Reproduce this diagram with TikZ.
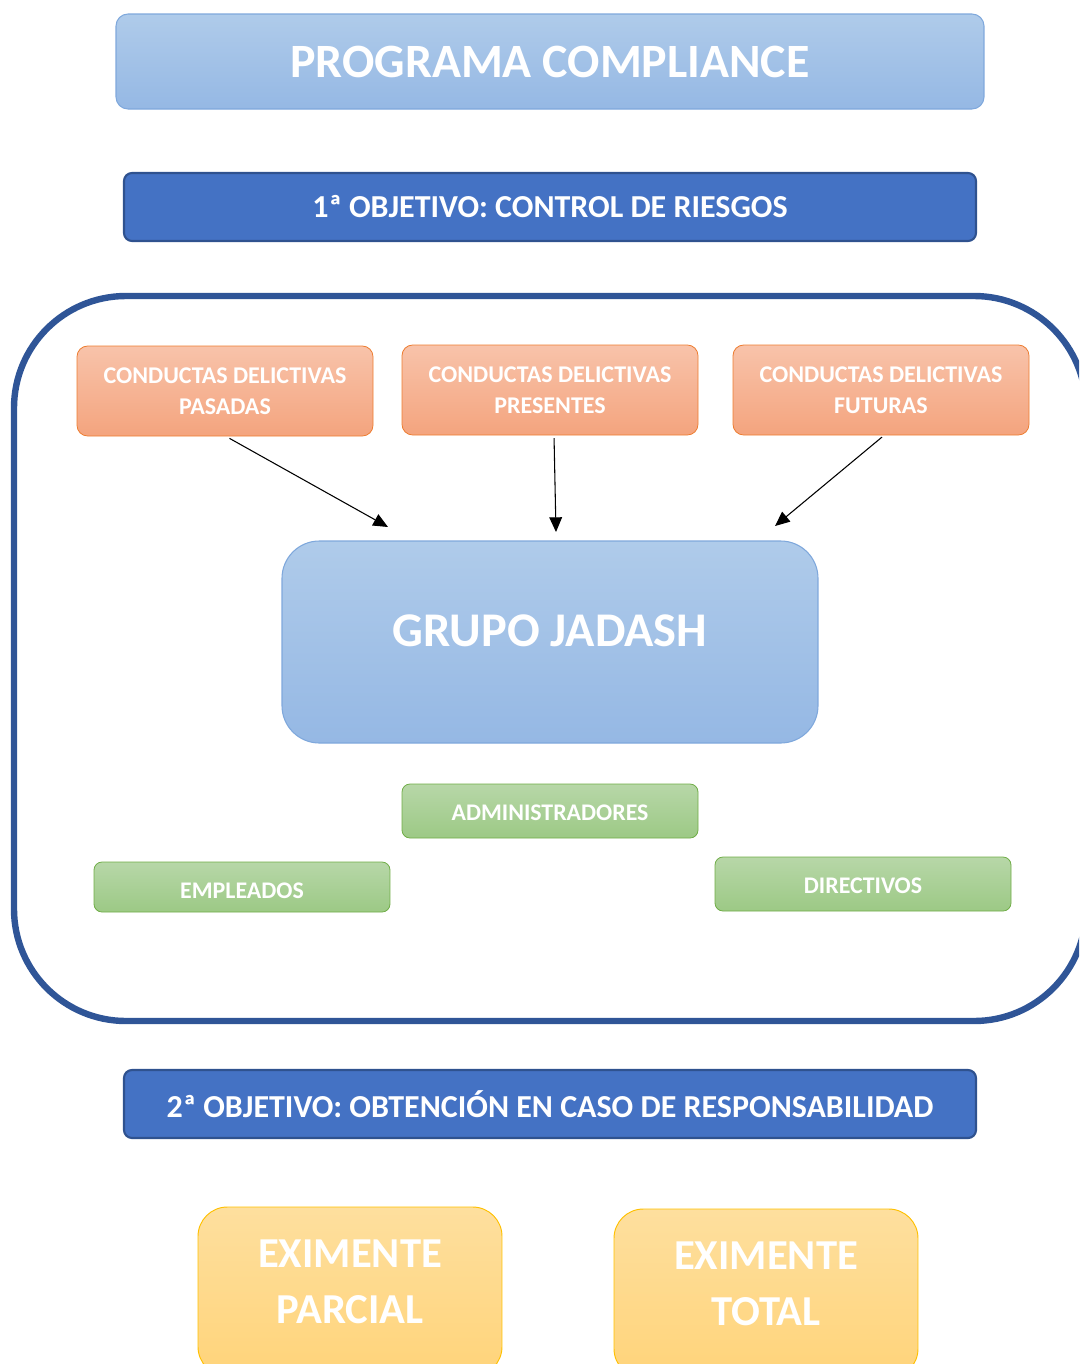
\documentclass[tikz,border=0pt]{standalone}
\usepackage{fontspec}
\setmainfont{Carlito}
\usetikzlibrary{arrows.meta}

\definecolor{lbTop}{HTML}{AFCBEA}
\definecolor{lbBot}{HTML}{95B8E4}
\definecolor{lbLine}{HTML}{7FA8DC}
\definecolor{objFill}{HTML}{4472C4}
\definecolor{objLine}{HTML}{2F528F}
\definecolor{orTop}{HTML}{F8C3AA}
\definecolor{orBot}{HTML}{F4A47E}
\definecolor{orLine}{HTML}{ED7D31}
\definecolor{grTop}{HTML}{B7D7A8}
\definecolor{grBot}{HTML}{9CC985}
\definecolor{grLine}{HTML}{70AD47}
\definecolor{ylTop}{HTML}{FEDF9E}
\definecolor{ylBot}{HTML}{FFD47A}
\definecolor{ylLine}{HTML}{FFC000}
\definecolor{frameLine}{HTML}{2F5597}

\begin{document}
\begin{tikzpicture}[x=0.75pt,y=-0.75pt,
  every node/.style={text=white, inner sep=0pt, align=center},
  lightblue/.style={rounded corners=9pt, top color=lbTop, bottom color=lbBot, draw=lbLine, line width=0.8pt},
  objbox/.style={rounded corners=6pt, fill=objFill, draw=objLine, line width=1.6pt,
    minimum width=639pt, minimum height=51pt, font=\fontsize{24}{28}\selectfont\bfseries},
  riskbox/.style={rounded corners=8pt, top color=orTop, bottom color=orBot, draw=orLine, line width=0.6pt,
    minimum width=222pt, minimum height=67.5pt, font=\fontsize{18}{23.25}\selectfont\bfseries},
  rolebox/.style={rounded corners=6pt, top color=grTop, bottom color=grBot, draw=grLine, line width=0.6pt,
    minimum width=222pt, font=\fontsize{17.9}{21}\selectfont\bfseries},
  excbox/.style={rounded corners=22pt, top color=ylTop, bottom color=ylBot, draw=ylLine, line width=0.7pt,
    minimum width=228pt, minimum height=126.75pt, font=\fontsize{32}{42}\selectfont\bfseries},
  arr/.style={-{Triangle[length=11pt,width=9.5pt]}, line width=0.8pt, black}
]
\useasboundingbox (0,0) rectangle (1079,1364);

% title
\node[lightblue, minimum width=651pt, minimum height=71.25pt,
  font=\fontsize{35.9}{40}\selectfont\bfseries] (title) at (550,61.5) {PROGRAMA COMPLIANCE};

% first objective
\node[objbox] (obj1) at (550,207) {1ª OBJETIVO: CONTROL DE RIESGOS};

% surrounding frame of the company
\begin{scope}
  \clip (0,0) rectangle (1079,1364);
  \draw[frameLine, line width=4.8pt, rounded corners=84pt] (14,296) rectangle (1086,1021);
\end{scope}

% criminal conduct boxes
\node[riskbox] (pa) at (225,391) {CONDUCTAS DELICTIVAS\\PASADAS};
\node[riskbox] (pr) at (550,390) {CONDUCTAS DELICTIVAS\\PRESENTES};
\node[riskbox] (fu) at (881,390) {CONDUCTAS DELICTIVAS\\FUTURAS};

% company box
\node[lightblue, rounded corners=28pt, minimum width=402pt, minimum height=151.5pt,
  font=\fontsize{36.3}{42}\selectfont\bfseries] (grupo) at (550,642) {\raisebox{16.5pt}{GRUPO JADASH}};

% arrow tips
\coordinate (tpa) at (388,527);
\coordinate (tpr) at (556,532);
\coordinate (tfu) at (775,526);
\draw[arr, shorten <=3pt] ([xshift=0.75pt]pa.south) -- (tpa);
\draw[arr, shorten <=2pt] ([xshift=3pt]pr.south) -- (tpr);
\draw[arr, shorten <=2pt] ([xshift=2.25pt]fu.south) -- (tfu);

% roles
\node[rolebox, minimum height=40.5pt] (adm) at (550,811) {\raisebox{-1.5pt}[\height][0pt]{ADMINISTRADORES}};
\node[rolebox, minimum height=37.5pt] (emp) at (242,887) {\raisebox{-3pt}[\height][0pt]{EMPLEADOS}};
\node[rolebox, minimum height=40.5pt] (dir) at (863,884) {\raisebox{-1.5pt}[\height][0pt]{DIRECTIVOS}};

% second objective
\node[objbox] (obj2) at (550,1104) {2ª OBJETIVO: OBTENCIÓN EN CASO DE RESPONSABILIDAD};

% exemptions
\begin{scope}
  \clip (0,0) rectangle (1079,1364);
  \node[excbox] (parc) at (350,1291.5) {\raisebox{14.25pt}{\shortstack{EXIMENTE\\[18pt]PARCIAL}}};
  \node[excbox] (tot) at (766,1293.5) {\raisebox{14.25pt}{\shortstack{EXIMENTE\\[18pt]TOTAL}}};
\end{scope}
\end{tikzpicture}
\end{document}
